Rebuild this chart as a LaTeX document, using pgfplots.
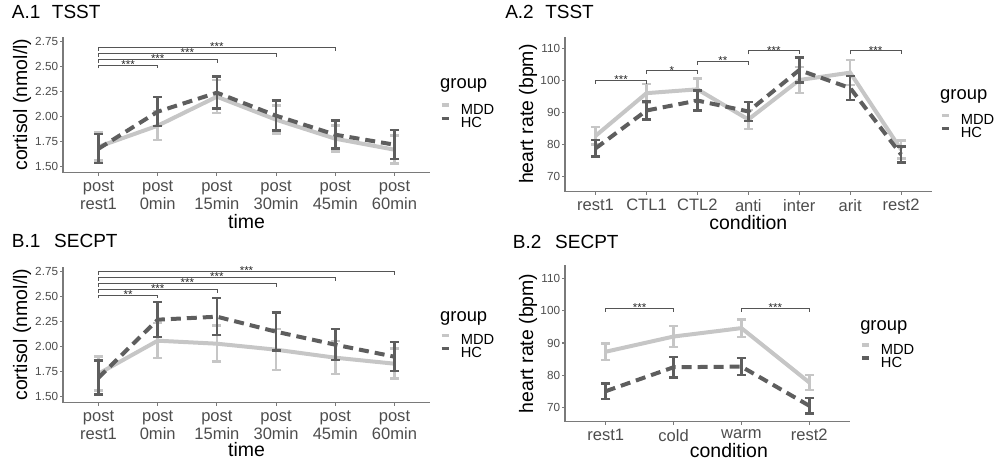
\documentclass[border=0pt]{standalone}
\usepackage{fontspec}
\setmainfont{Liberation Sans}
\usepackage{pgfplots}
\pgfplotsset{compat=1.18}
\definecolor{mddc}{HTML}{C6C6C6}
\definecolor{hcc}{HTML}{5E5E5E}
\definecolor{axc}{HTML}{7A7A7A}
\definecolor{tickc}{HTML}{4D4D4D}
\definecolor{sigc}{HTML}{555555}
\newcommand{\sig}[5]{%
  \draw[sigc, line width=0.6pt] (axis cs:#1,#3-#4) -- (axis cs:#1,#3) -- (axis cs:#2,#3) -- (axis cs:#2,#3-#4);
  \node[font=\fontsize{8.6}{9}\selectfont, text=black!85, inner sep=0pt, anchor=base, yshift=-2.6pt] at (axis cs:{(#1+#2)/2},#3) {#5};}
\newcommand{\grouptitle}[2]{\node[anchor=base west, font=\fontsize{13.8}{14}\selectfont, inner sep=0pt] at (axis description cs:#1,#2) {group};}
\pgfplotsset{
 panel/.style={
  scale only axis,
  axis x line*=bottom, axis y line*=left,
  axis line style={draw=axc, line width=0.8pt, -},
  tick pos=left, tick align=outside,
  major tick length=2.2pt,
  tick style={draw=axc, line width=0.8pt},
  yticklabel style={font=\fontsize{8.8}{9}\selectfont, text=tickc, inner sep=1.3pt},
  xticklabel style={font=\fontsize{12.4}{13.7}\selectfont, text=tickc, align=center},
  label style={font=\fontsize{14.6}{15}\selectfont, inner sep=0pt},
  /pgf/number format/assume math mode=true,
  clip=false,
  legend style={draw=none, fill=none, inner sep=0pt, outer sep=0pt, anchor=north west,
     font=\fontsize{11}{12}\selectfont, column sep=7.3pt, row sep=0pt,
     nodes={inner sep=0pt, outer sep=0pt}},
  legend cell align=left,
  legend image code/.code={\draw[##1, solid, line width=2.7pt] (0pt,4pt) -- (5.7pt,4pt);},
  title style={font=\fontsize{14.25}{15}\selectfont, anchor=base west, inner sep=0pt},
 },
 mdd/.style={color=mddc, line width=3pt, solid, mark=none,
   error bars/y dir=both, error bars/y explicit,
   error bars/error bar style={line width=1.9pt, solid},
   error bars/error mark options={rotate=90, mark size=3.4pt, line width=1.9pt, solid}},
 hc/.style={color=hcc, line width=3pt, dash pattern=on 7.5pt off 4.5pt, mark=none,
   error bars/y dir=both, error bars/y explicit,
   error bars/error bar style={line width=1.9pt, solid},
   error bars/error mark options={rotate=90, mark size=3.4pt, line width=1.9pt, solid}},
}
\newcommand{\grouplegend}{%
  \addlegendimage{color=mddc}\addlegendentry{\rule[-2pt]{0pt}{8.5pt}MDD}
  \addlegendimage{color=hcc}\addlegendentry{\rule[-2pt]{0pt}{8.5pt}HC}}
\begin{document}
\begin{tikzpicture}
\useasboundingbox (0,0) rectangle (746.25pt,345pt);
% ---------------- A.1
\begin{axis}[panel, at={(47.25pt,215.475pt)}, anchor=south west, width=275.25pt, height=102pt,
 xmin=-0.6, xmax=5.6, ymin=1.44, ymax=2.80,
 xtick={0,...,5}, xticklabels={{post\\rest1},{post\\0min},{post\\15min},{post\\30min},{post\\45min},{post\\60min}},
 ytick={1.5,1.75,2,2.25,2.5,2.75},
 yticklabel style={/pgf/number format/fixed, /pgf/number format/fixed zerofill, /pgf/number format/precision=2},
 xlabel={time}, ylabel={cortisol (nmol/l)},
 xlabel style={at={(axis description cs:0.5,-0.409)}, anchor=base},
 ylabel style={at={(axis description cs:-0.1117,0.5)}, anchor=center},
 title={A.1\hspace{8.6pt}TSST}, title style={at={(axis description cs:-0.1398,1.0728)}},
 legend style={at={(axis description cs:1.027,0.5088)}},
]
\addplot[forget plot, mdd] coordinates {(0,1.70) +- (0,0.14) (1,1.91) +- (0,0.145) (2,2.20) +- (0,0.165) (3,1.97) +- (0,0.14) (4,1.78) +- (0,0.13) (5,1.67) +- (0,0.14)};
\addplot[forget plot, hc] coordinates {(0,1.68) +- (0,0.145) (1,2.05) +- (0,0.145) (2,2.24) +- (0,0.16) (3,2.01) +- (0,0.15) (4,1.82) +- (0,0.14) (5,1.72) +- (0,0.145)};
\sig{0}{1}{2.517}{0.033}{***}
\sig{0}{2}{2.573}{0.033}{***}
\sig{0}{3}{2.633}{0.033}{***}
\sig{0}{4}{2.693}{0.033}{***}
\grouplegend
\grouptitle{1.027}{0.617}
\end{axis}
% ---------------- B.1
\begin{axis}[panel, at={(47.25pt,42.975pt)}, anchor=south west, width=275.25pt, height=102pt,
 xmin=-0.6, xmax=5.6, ymin=1.44, ymax=2.80,
 xtick={0,...,5}, xticklabels={{post\\rest1},{post\\0min},{post\\15min},{post\\30min},{post\\45min},{post\\60min}},
 ytick={1.5,1.75,2,2.25,2.5,2.75},
 yticklabel style={/pgf/number format/fixed, /pgf/number format/fixed zerofill, /pgf/number format/precision=2},
 xlabel={time}, ylabel={cortisol (nmol/l)},
 xlabel style={at={(axis description cs:0.5,-0.392)}, anchor=base},
 ylabel style={at={(axis description cs:-0.1117,0.5)}, anchor=center},
 title={B.1\hspace{10.3pt}SECPT}, title style={at={(axis description cs:-0.1398,1.080)}},
 legend style={at={(axis description cs:1.027,0.5088)}},
]
\addplot[forget plot, mdd] coordinates {(0,1.73) +- (0,0.17) (1,2.06) +- (0,0.175) (2,2.03) +- (0,0.18) (3,1.97) +- (0,0.205) (4,1.89) +- (0,0.165) (5,1.83) +- (0,0.15)};
\addplot[forget plot, hc] coordinates {(0,1.69) +- (0,0.17) (1,2.27) +- (0,0.175) (2,2.30) +- (0,0.185) (3,2.15) +- (0,0.19) (4,2.02) +- (0,0.155) (5,1.90) +- (0,0.145)};
\sig{0}{1}{2.517}{0.033}{**}
\sig{0}{2}{2.573}{0.033}{***}
\sig{0}{3}{2.633}{0.033}{***}
\sig{0}{4}{2.693}{0.033}{***}
\sig{0}{5}{2.753}{0.033}{***}
\grouplegend
\grouptitle{1.027}{0.599}
\end{axis}
% ---------------- A.2
\begin{axis}[panel, at={(423.75pt,201.225pt)}, anchor=south west, width=275pt, height=116.25pt,
 xmin=-0.6, xmax=6.6, ymin=65.3, ymax=113.6,
 xtick={0,...,6}, xticklabels={rest1,CTL1,CTL2,anti,inter,arit,rest2},
 ytick={70,80,90,100,110},
 xlabel={condition}, ylabel={heart rate (bpm)},
 xlabel style={at={(axis description cs:0.5,-0.2426)}, anchor=base},
 ylabel style={at={(axis description cs:-0.1009,0.5)}, anchor=center},
 title={A.2\hspace{8.6pt}TSST}, title style={at={(axis description cs:-0.1636,1.0639)}},
 legend style={at={(axis description cs:1.0226,0.5045)}},
]
\addplot[forget plot, mdd] coordinates {(0,82.7) +- (0,2.7) (1,96.0) +- (0,2.9) (2,97.2) +- (0,3.4) (3,87.8) +- (0,3.0) (4,100.1) +- (0,4.0) (5,102.4) +- (0,3.9) (6,78.4) +- (0,2.8)};
\addplot[forget plot, hc] coordinates {(0,78.8) +- (0,2.6) (1,90.6) +- (0,2.8) (2,93.7) +- (0,3.1) (3,90.3) +- (0,2.9) (4,103.2) +- (0,3.9) (5,97.6) +- (0,3.75) (6,76.9) +- (0,2.5)};
\sig{0}{1}{100}{1.1}{***}
\sig{1}{2}{103}{1.1}{*}
\sig{2}{3}{106}{1.1}{**}
\sig{3}{4}{109.2}{1.1}{***}
\sig{5}{6}{109.2}{1.1}{***}
\grouplegend
\grouptitle{1.0226}{0.5935}
\end{axis}
% ---------------- B.2
\begin{axis}[panel, at={(423.75pt,28.725pt)}, anchor=south west, width=213.75pt, height=117.5pt,
 xmin=-0.6, xmax=3.6, ymin=65.67, ymax=114.1,
 xtick={0,...,3}, xticklabels={rest1,cold,warm,rest2},
 ytick={70,80,90,100,110},
 xlabel={condition}, ylabel={heart rate (bpm)},
 xlabel style={at={(axis description cs:0.575,-0.2285)}, anchor=base},
 ylabel style={at={(axis description cs:-0.1298,0.5)}, anchor=center},
 title={B.2\hspace{10.3pt}SECPT}, title style={at={(axis description cs:-0.1835,1.0523)}},
 legend style={at={(axis description cs:1.035,0.501)}},
]
\addplot[forget plot, mdd] coordinates {(0,87.3) +- (0,2.5) (1,92.0) +- (0,3.2) (2,94.6) +- (0,2.7) (3,77.8) +- (0,2.3)};
\addplot[forget plot, hc] coordinates {(0,75.1) +- (0,2.45) (1,82.5) +- (0,3.15) (2,82.7) +- (0,2.6) (3,70.6) +- (0,2.35)};
\sig{0}{1}{100.7}{1.1}{***}
\sig{2}{3}{100.7}{1.1}{***}
\grouplegend
\grouptitle{1.035}{0.584}
\end{axis}
\end{tikzpicture}
\end{document}
